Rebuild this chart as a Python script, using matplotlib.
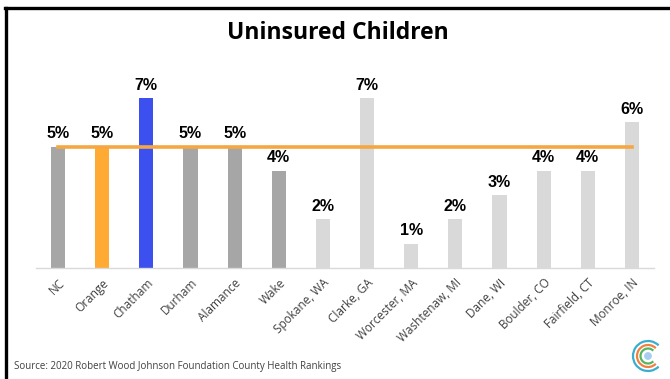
import matplotlib.pyplot as plt
from matplotlib.lines import Line2D
from matplotlib.patches import Arc, Circle

counties = ["NC", "Orange", "Chatham", "Durham", "Alamance", "Wake",
            "Spokane, WA", "Clarke, GA", "Worcester, MA", "Washtenaw, MI",
            "Dane, WI", "Boulder, CO", "Fairfield, CT", "Monroe, IN"]
uninsured = [5, 5, 7, 5, 5, 4, 2, 7, 1, 2, 3, 4, 4, 6]
orange_level = [5] * len(counties)

bar_colors = (["#A6A6A6", "#FFAA33", "#3B50EE", "#A6A6A6", "#A6A6A6", "#A6A6A6"]
              + ["#D9D9D9"] * 8)

W, H = 670, 379
fig = plt.figure(figsize=(W / 100, H / 100), dpi=100)
ax = fig.add_axes([36 / W, (H - 268) / H, (654 - 36) / W, (268 - 70) / H])

x = range(len(counties))
ax.bar(x, uninsured, width=0.32, color=bar_colors, zorder=2)
ax.plot(x, orange_level, color="#F5A742", lw=2.6, zorder=3)

for xi, v in zip(x, uninsured):
    ax.text(xi, v + 0.22, f"{v}%", ha="center", va="bottom",
            fontsize=11.5, fontweight="bold", family="Liberation Sans")

ax.set_xlim(-0.5, 13.5)
ax.set_ylim(0, 8.15)
ax.set_yticks([])
ax.set_xticks(list(x))
ax.set_xticklabels(counties, rotation=45, ha="right", rotation_mode="anchor",
                   fontsize=8.5, color="#404040", family="Open Sans")
ax.tick_params(axis="x", length=0, pad=6)
for s in ["top", "right", "left"]:
    ax.spines[s].set_visible(False)
ax.spines["bottom"].set_color("#D9D9D9")
ax.spines["bottom"].set_linewidth(1)

fig.text(338 / W, 1 - 33 / H, "Uninsured Children", ha="center", va="center",
         fontsize=16.5, fontweight="bold", family="Open Sans")
fig.text(14 / W, 1 - 367 / H, "Source: 2020 Robert Wood Johnson Foundation County Health Rankings",
         ha="left", va="center", fontsize=7, color="#404040", family="Open Sans")

# frame edges (left and top)
fig.add_artist(Line2D([5.5 / W, 5.5 / W], [0, 1 - 7.5 / H], color="black", lw=2.4,
                      transform=fig.transFigure))
fig.add_artist(Line2D([4.5 / W, 1], [1 - 7.5 / H, 1 - 7.5 / H], color="black", lw=2.4,
                      transform=fig.transFigure))

# small logo bottom right
lax = fig.add_axes([628 / W, 1 - 376 / H, 40 / W, 40 / H])
lax.set_xlim(-20, 20)
lax.set_ylim(-20, 20)
lax.axis("off")
for r, c in [(15, "#3AAED0"), (11, "#F08040"), (7.5, "#55B560")]:
    lax.add_patch(Arc((0, 0), 2 * r, 2 * r, theta1=45, theta2=315, color=c, lw=1.6))
lax.add_patch(Circle((0, 0), 3.2, color="#A9CDF0"))

fig.savefig("out.png", dpi=100)
